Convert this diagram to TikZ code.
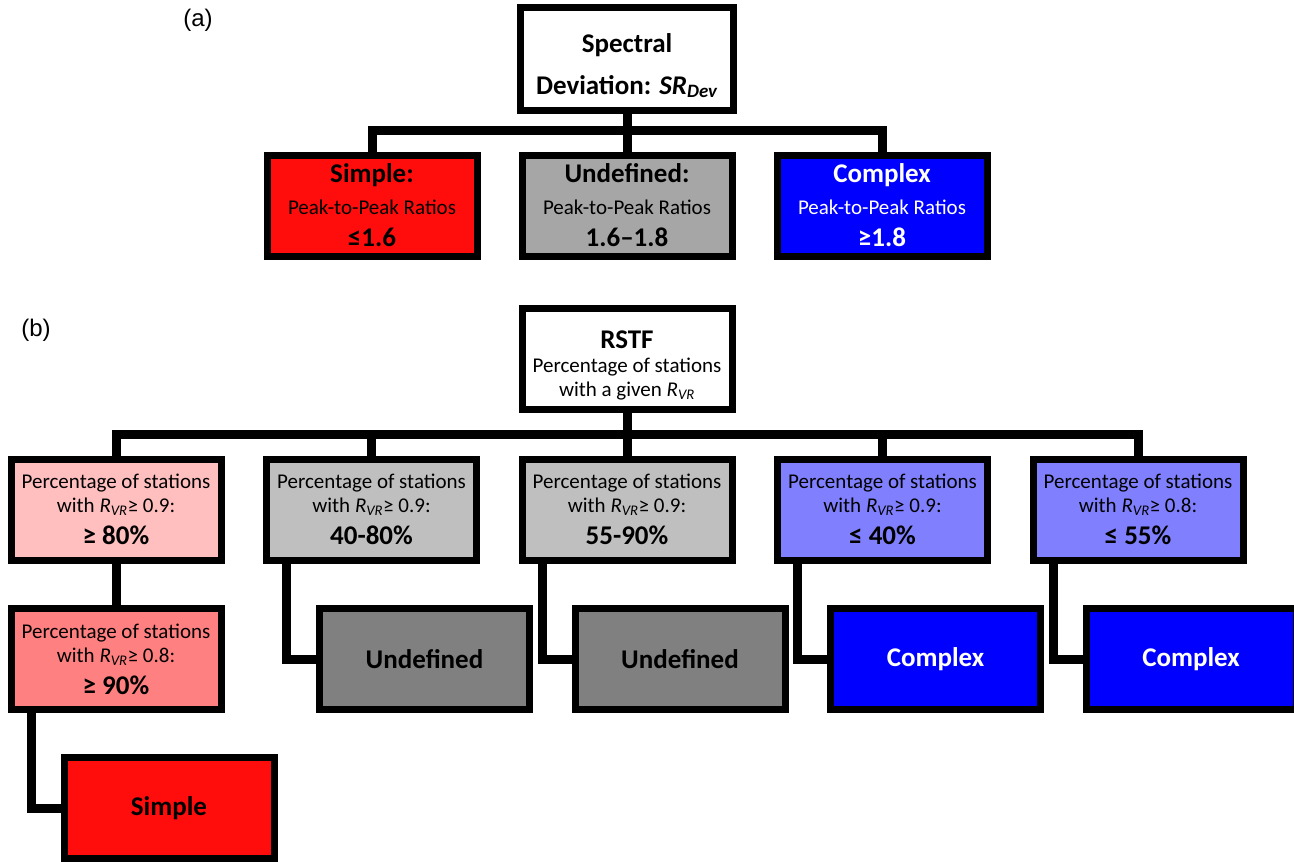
\documentclass[tikz,border=0pt]{standalone}
\usepackage{fontspec}
\setmainfont{Carlito}
\newfontfamily\labelfont{Liberation Sans}
\definecolor{cRed}{RGB}{255,12,12}
\definecolor{cGrayA}{RGB}{166,166,166}
\definecolor{cBlue}{RGB}{0,0,255}
\definecolor{cPink}{RGB}{255,191,191}
\definecolor{cPinkDk}{RGB}{255,128,128}
\definecolor{cGrayB}{RGB}{191,191,191}
\definecolor{cLav}{RGB}{128,128,255}
\definecolor{cGrayC}{RGB}{128,128,128}
\newcommand\BigBold[1]{{\fontsize{27}{33}\selectfont\bfseries #1}}
\newcommand\RVR{\textit{R}\textsubscript{\textit{VR}}}
\tikzset{
  box/.style={draw=black, line width=7pt, minimum width=210pt, minimum height=101pt,
    inner sep=0pt, align=center, font=\fontsize{21}{24}\selectfont},
  abox/.style={box, font=\fontsize{21}{32}\selectfont},
  endbox/.style={box, font=\fontsize{27}{33}\selectfont\bfseries},
  conn/.style={draw=black, line width=9pt, line join=miter},
  plabel/.style={font=\labelfont\fontsize{24}{28}\selectfont, inner sep=0pt}
}
\begin{document}
\begin{tikzpicture}[x=1pt,y=-1pt]
\useasboundingbox (0,0) rectangle (1294,862);
% ---------- (a)
\node[plabel] (la) at (198,20) {(a)};
\node[box, minimum width=213pt, minimum height=103pt, font=\fontsize{27}{33}\selectfont\bfseries] (A0) at (627,59)
  {\rule{0pt}{32pt}Spectral\\[9pt]Deviation: \textit{SR}\textsubscript{\textit{Dev}}};
\node[abox, fill=cRed] (A1) at (372,205.5) {\BigBold{Simple:}\\Peak-to-Peak Ratios\\\BigBold{≤1.6}};
\node[abox, fill=cGrayA] (A2) at (627,205.5) {\BigBold{Undefined:}\\Peak-to-Peak Ratios\\\BigBold{1.6–1.8}};
\node[abox, fill=cBlue, text=white] (A3) at (882,205.5) {\BigBold{Complex}\\Peak-to-Peak Ratios\\\BigBold{≥1.8}};
\coordinate (abar) at (627,130.5);
\draw[conn] (A0.south) -- (abar) -| (A1.north);
\draw[conn] (abar) -- (A2.north);
\draw[conn] (abar) -| (A3.north);
% ---------- (b)
\node[plabel] (lb) at (36,330) {(b)};
\node[box, fill=white] (B0) at (627,358.5) {\rule{0pt}{31pt}\BigBold{RSTF}\\Percentage of stations\\with a given \RVR};
\node[box, fill=cPink] (B1) at (116,509.5) {Percentage of stations\\with \RVR≥ 0.9:\\[8pt]\BigBold{≥ 80\%}};
\node[box, fill=cGrayB] (B2) at (371.5,509.5) {Percentage of stations\\with \RVR≥ 0.9:\\[8pt]\BigBold{40-80\%}};
\node[box, fill=cGrayB] (B3) at (627,509.5) {Percentage of stations\\with \RVR≥ 0.9:\\[8pt]\BigBold{55-90\%}};
\node[box, fill=cLav] (B4) at (882.5,509.5) {Percentage of stations\\with \RVR≥ 0.9:\\[8pt]\BigBold{≤ 40\%}};
\node[box, fill=cLav] (B5) at (1138,509.5) {Percentage of stations\\with \RVR≥ 0.8:\\[8pt]\BigBold{≤ 55\%}};
\coordinate (bbar) at (627,434);
\draw[conn] (B0.south) -- (bbar) -| (B1.north);
\draw[conn] (bbar) -| (B2.north);
\draw[conn] (bbar) -- (B3.north);
\draw[conn] (bbar) -| (B4.north);
\draw[conn] (bbar) -| (B5.north);
% second level
\node[box, fill=cPinkDk] (C1) at (116,659) {Percentage of stations\\with \RVR≥ 0.8:\\[8pt]\BigBold{≥ 90\%}};
\node[endbox, fill=cGrayC] (U1) at (424.5,659) {Undefined};
\node[endbox, fill=cGrayC] (U2) at (680,659) {Undefined};
\node[endbox, fill=cBlue, text=white] (X1) at (935.5,659) {Complex};
\node[endbox, fill=cBlue, text=white] (X2) at (1191,659) {Complex};
\node[endbox, fill=cRed] (S1) at (169,808) {Simple};
\draw[conn] (B1.south) -- (C1.north);
\draw[conn] ([xshift=23.5pt]C1.south west) |- (S1.west);
\draw[conn] ([xshift=23.5pt]B2.south west) |- (U1.west);
\draw[conn] ([xshift=23.5pt]B3.south west) |- (U2.west);
\draw[conn] ([xshift=23.5pt]B4.south west) |- (X1.west);
\draw[conn] ([xshift=23.5pt]B5.south west) |- (X2.west);
\end{tikzpicture}
\end{document}
